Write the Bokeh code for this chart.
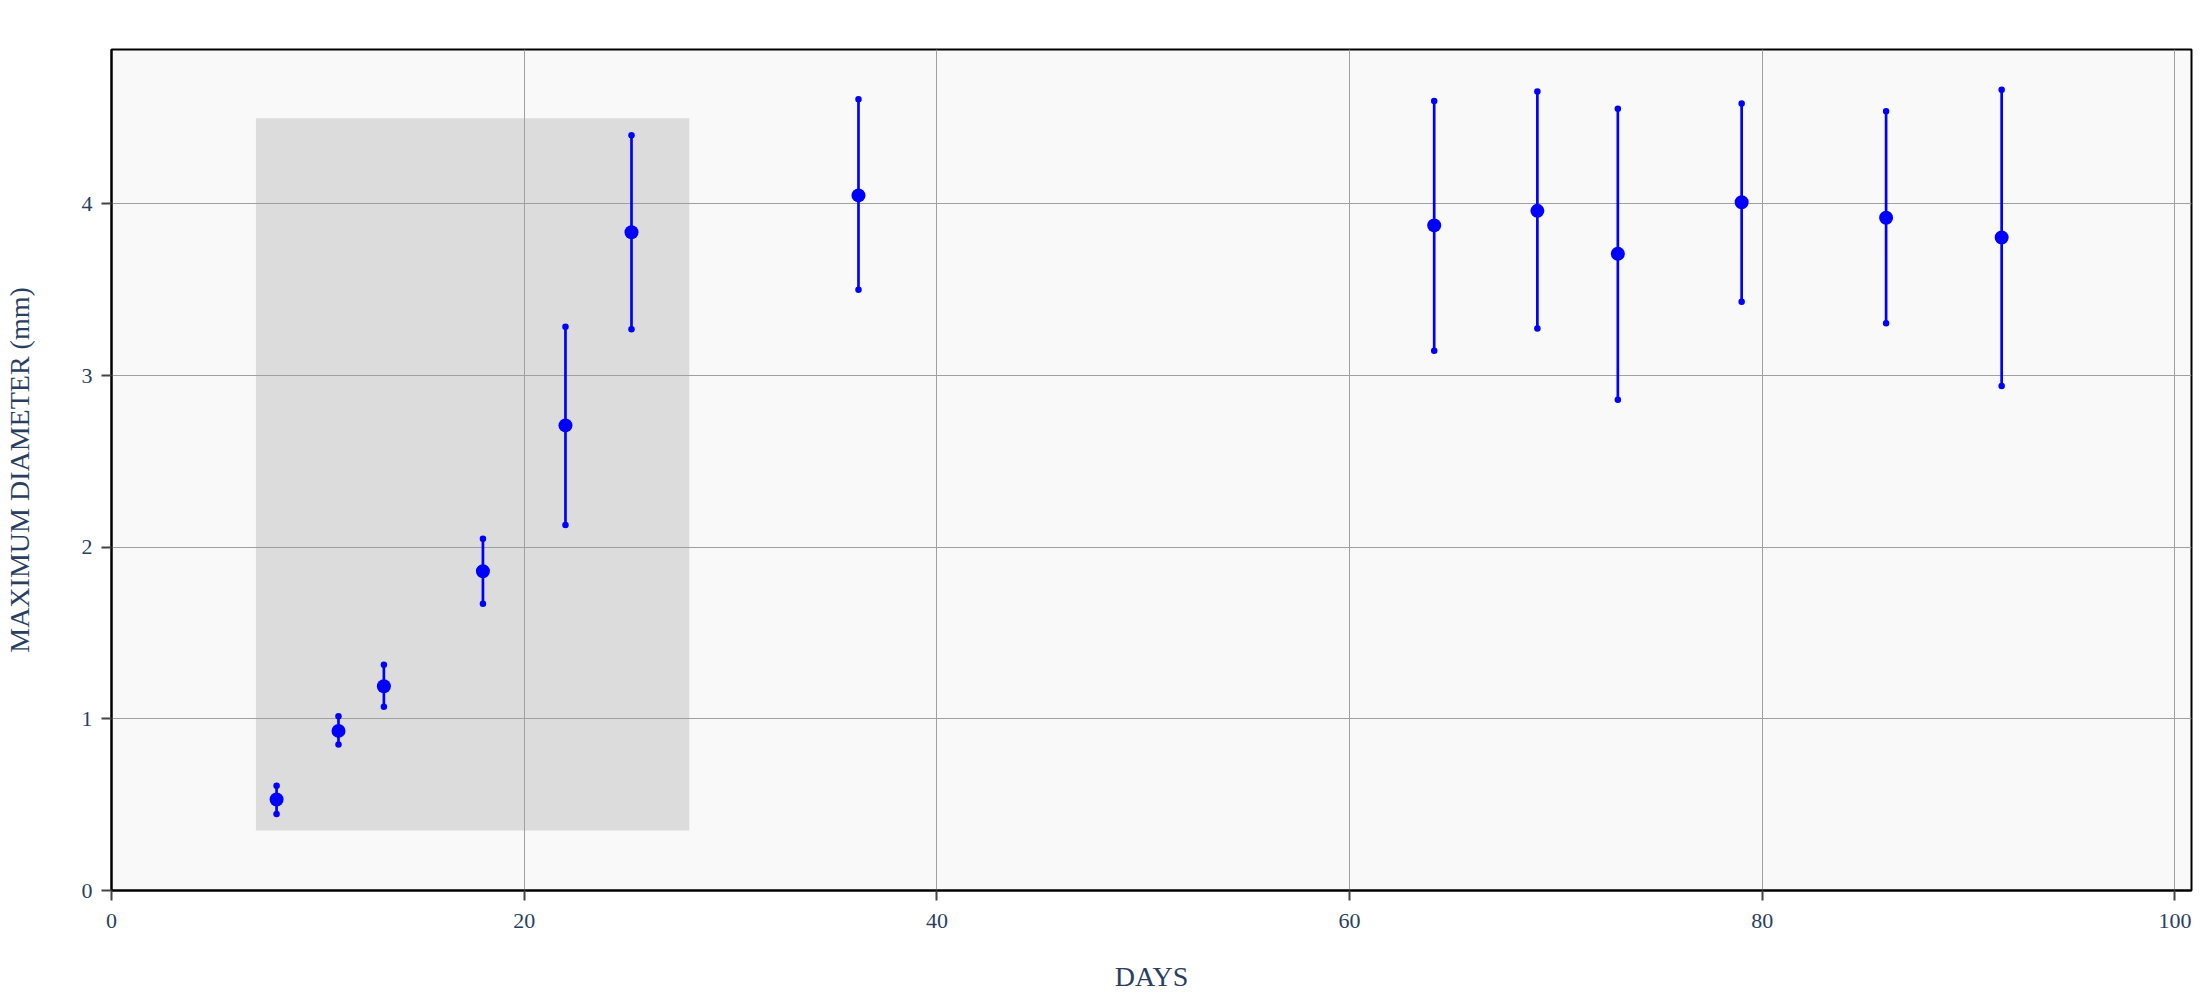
from bokeh.plotting import figure
from bokeh.models import Range1d, FixedTicker, ColumnDataSource
from bokeh.embed import file_html
from bokeh.resources import INLINE

# Data
days = [8, 11, 13.2, 18, 22, 25.2, 36.2, 64.1, 69.1, 73, 79, 86, 91.6]
mean_diam = [0.53, 0.93, 1.19, 1.86, 2.71, 3.835, 4.05, 3.875, 3.96, 3.71, 4.01, 3.92, 3.805]
upper_diam = [0.61, 1.015, 1.315, 2.05, 3.285, 4.40, 4.61, 4.60, 4.655, 4.555, 4.585, 4.54, 4.665]
lower_diam = [0.445, 0.85, 1.07, 1.67, 2.13, 3.27, 3.50, 3.145, 3.275, 2.86, 3.43, 3.305, 2.94]

shade_x = [7, 28]
shade_y = [0.35, 4.5]

x_ticks = [0, 20, 40, 60, 80, 100]
y_ticks = [0, 1, 2, 3, 4]

FONT = "Liberation Serif"
TXT = "#2a3f5f"

p = figure(
    output_backend="svg", toolbar_location=None,
    frame_width=2080, frame_height=841,
    min_border_left=110, min_border_right=2, min_border_top=49, min_border_bottom=100,
    x_range=Range1d(0, 100.8), y_range=Range1d(0, 4.9),
    background_fill_color="#f9f9f9", border_fill_color="white",
)
p.outline_line_color = "black"
p.outline_line_width = 2

# shaded region (below the grid)
p.quad(left=[shade_x[0]], right=[shade_x[1]], bottom=[shade_y[0]], top=[shade_y[1]],
       fill_color="#dcdcdc", line_color=None, level="image")

src = ColumnDataSource(dict(x=days, y=mean_diam, up=upper_diam, lo=lower_diam))
p.segment(x0="x", y0="lo", x1="x", y1="up", source=src, line_color="#0000ff", line_width=2.7)
p.scatter("x", "up", source=src, size=6.5, fill_color="#0000ff", line_color=None)
p.scatter("x", "lo", source=src, size=6.5, fill_color="#0000ff", line_color=None)
p.scatter("x", "y", source=src, size=14, fill_color="#0000ff", line_color=None)

p.xaxis.ticker = FixedTicker(ticks=x_ticks)
p.yaxis.ticker = FixedTicker(ticks=y_ticks)
for ax in (p.xaxis, p.yaxis):
    ax.axis_line_color = "black"
    ax.axis_line_width = 2
    ax.major_tick_line_color = "#444444"
    ax.major_tick_line_width = 2
    ax.major_tick_out = 10
    ax.major_tick_in = 0
    ax.minor_tick_line_color = None
    ax.major_label_text_font = FONT
    ax.major_label_text_font_size = "22px"
    ax.major_label_text_color = TXT
    ax.axis_label_text_font = FONT
    ax.axis_label_text_font_size = "28px"
    ax.axis_label_text_color = TXT
    ax.axis_label_text_font_style = "normal"

p.xaxis.axis_label = "DAYS"
p.yaxis.axis_label = "MAXIMUM DIAMETER (mm)"
p.xaxis.major_label_standoff = 13
p.yaxis.major_label_standoff = 9
p.xaxis.axis_label_standoff = 30
p.yaxis.axis_label_standoff = 44

p.grid.grid_line_color = "#a0a0a0"
p.grid.grid_line_width = 1

open("out.html", "w").write(file_html(p, INLINE))
